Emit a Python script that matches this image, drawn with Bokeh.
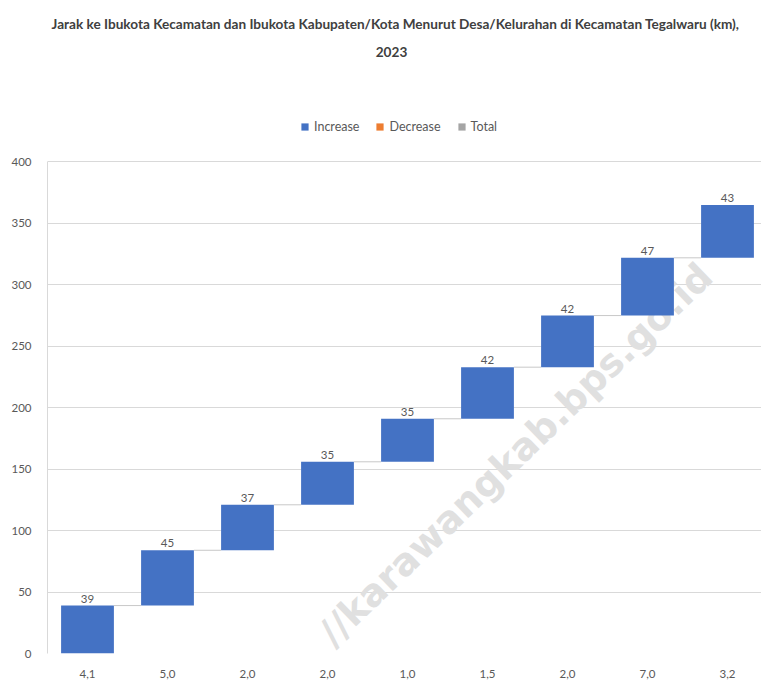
import numpy as np
from bokeh.plotting import figure
from bokeh.models import (Range1d, FixedTicker, Legend, LegendItem,
                          ColumnDataSource, Label, LabelSet)
from bokeh.core.properties import value
from bokeh.embed import file_html
from bokeh.resources import INLINE

# ---- data ----
categories = ["4,1", "5,0", "2,0", "2,0", "1,0", "1,5", "2,0", "7,0", "3,2"]
increase = [39, 45, 37, 35, 35, 42, 42, 47, 43]
decrease = [0, 0, 0, 0, 0, 0, 0, 0, 0]
y_ticks = [0, 50, 100, 150, 200, 250, 300, 350, 400]
title_line1 = "Jarak ke Ibukota Kecamatan dan Ibukota Kabupaten/Kota Menurut Desa/Kelurahan di Kecamatan Tegalwaru (km),"
title_line2 = "2023"
watermark = "//karawangkab.bps.go.id"

# ---- derived ----
xs = list(range(len(categories)))
tops = np.cumsum(increase)
bottoms = tops - np.array(increase)
BAR_W = 0.66
Y_MAX = 400
Y_END = 531.4  # room above the value axis for title and legend
X_END = 8.425

src = ColumnDataSource(dict(x=xs, top=tops, bottom=bottoms,
                            lbl=[str(v) for v in increase]))
zero_src = ColumnDataSource(dict(x=xs, top=tops, bottom=tops - np.array(decrease)))
conn = ColumnDataSource(dict(x0=[x + BAR_W / 2 for x in xs[:-1]],
                             x1=[x + 1 - BAR_W / 2 for x in xs[:-1]],
                             y=tops[:-1]))

FONT = "Lato"
GRAY_TXT = "#595959"

p = figure(width=761, height=680, output_backend="svg", toolbar_location=None,
           x_range=Range1d(-0.5, X_END), y_range=Range1d(0, Y_END),
           min_border_left=47, min_border_right=0, min_border_bottom=25,
           min_border_top=0)
p.outline_line_color = None
p.background_fill_color = "white"

# watermark (faint, beneath the bars)
p.add_layout(Label(x=5.35, y=162, text=watermark, angle=0.768,
                   text_align="center", text_baseline="middle",
                   text_font="DejaVu Sans", text_font_style="bold",
                   text_font_size="38px", text_color="#e0e0e0",
                   level="underlay"))

# bars
r_inc = p.vbar(x="x", top="top", bottom="bottom", width=BAR_W, source=src,
               fill_color="#4472C4", line_color=None)
r_dec = p.vbar(x="x", top="top", bottom="bottom", width=BAR_W, source=zero_src,
               fill_color="#ED7D31", line_color=None)
r_tot = p.vbar(x="x", top="bottom", bottom="bottom", width=BAR_W, source=zero_src,
               fill_color="#A5A5A5", line_color=None)

# connectors
p.segment(x0="x0", y0="y", x1="x1", y1="y", source=conn, line_color="#c8c8c8", line_width=1)

# data labels
p.add_layout(LabelSet(x="x", y="top", text="lbl", source=src, y_offset=3,
                      text_align="center", text_baseline="bottom",
                      text_font=value(FONT), text_font_size=value("11.5px"),
                      text_color=GRAY_TXT))

# axes
p.xaxis.ticker = FixedTicker(ticks=xs)
p.xaxis.major_label_overrides = {i: c for i, c in zip(xs, categories)}
p.yaxis.ticker = FixedTicker(ticks=y_ticks)
p.yaxis.bounds = (0, Y_MAX)
for ax in (p.xaxis[0], p.yaxis[0]):
    ax.major_tick_line_color = None
    ax.minor_tick_line_color = None
    ax.major_label_text_font = FONT
    ax.major_label_text_font_size = "11.5px"
    ax.major_label_text_color = GRAY_TXT
p.xaxis.axis_line_color = None
p.xaxis.major_label_standoff = 10
p.yaxis.axis_line_color = "#d9d9d9"
p.yaxis.major_label_standoff = 10

p.xgrid.grid_line_color = None
p.ygrid.grid_line_color = "#d9d9d9"
p.ygrid.ticker = FixedTicker(ticks=y_ticks)

# title (two lines)
p.add_layout(Label(x=3.85, y=512.5, text=title_line1, text_align="center",
                   text_baseline="middle", text_font=FONT, text_font_style="bold",
                   text_font_size="13.6px", text_color="#404040"))
p.add_layout(Label(x=3.8, y=489.5, text=title_line2, text_align="center",
                   text_baseline="middle", text_font=FONT, text_font_style="bold",
                   text_font_size="13.6px", text_color="#404040"))

# legend
legend = Legend(items=[LegendItem(label="Increase", renderers=[r_inc]),
                       LegendItem(label="Decrease", renderers=[r_dec]),
                       LegendItem(label="Total", renderers=[r_tot])],
                orientation="horizontal", location=(253, 519),
                glyph_width=9, glyph_height=9, label_standoff=5, spacing=16,
                padding=0, margin=0, border_line_alpha=0,
                background_fill_alpha=0,
                label_text_font=FONT, label_text_font_size="12.5px",
                label_text_color=GRAY_TXT)
p.add_layout(legend, "center")

open("out.html", "w").write(file_html(p, INLINE))
